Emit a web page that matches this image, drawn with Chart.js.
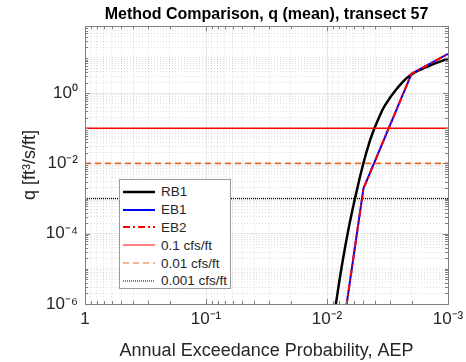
<!DOCTYPE html>
<html><head><meta charset="utf-8">
<script src="https://cdn.jsdelivr.net/npm/chart.js@4/dist/chart.umd.min.js"></script>
<style>
html,body{margin:0;padding:0;background:#fff;}
#wrap{position:relative;width:466px;height:362px;}
#legend{position:absolute;left:119px;top:179px;width:112px;height:110px;border:1px solid #9a9a9a;background:#fff;
  font:13.5px "Liberation Sans",Arial,sans-serif;color:#262626;box-sizing:border-box;padding-top:3px;}
.row{display:flex;align-items:center;height:17.8px;white-space:nowrap;}
.row svg{margin-left:3px;margin-right:6px;flex:none;}
</style></head><body>
<div id="wrap"><canvas id="c" width="466" height="362"></canvas><div id="legend"></div></div>
<script>
// ---- data ----
const rb1AEP = [0.00933, 0.00843, 0.00756, 0.00667, 0.00587, 0.00501, 0.00441, 0.00406, 0.0037, 0.00332, 0.00265, 0.00206, 0.00141, 0.001];
const rb1Q   = [1.1e-7, 1.05e-6, 1.15e-5, 1.26e-4, 1.0e-3, 9.9e-3, 0.045, 0.098, 0.209, 0.447, 1.33, 3.18, 6.1, 9.5];
const ebAEP  = [0.01, 0.005, 0.002, 0.001];
const eb1Q   = [1.4e-10, 0.00192, 3.56, 13.0];
const eb2Q   = [1.4e-10, 0.00192, 3.56, 13.0];
const thresholdNames  = ['0.1 cfs/ft', '0.01 cfs/ft', '0.001 cfs/ft'];
const thresholdValues = [0.1, 0.01, 0.001];
const thresholdAEP    = [1, 0.001];
const xTickValues = [1, 0.1, 0.01, 0.001];
const xTickLabels = ['1', '10\u207B\u00B9', '10\u207B\u00B2', '10\u207B\u00B3'];
const yTickValues = [1, 1e-2, 1e-4, 1e-6];
const yTickLabels = ['10\u2070', '10\u207B\u00B2', '10\u207B\u2074', '10\u207B\u2076'];

const FONT = '"Liberation Sans", Arial, Helvetica, sans-serif';
const TXT = '#262626';

function pts(xs, ys){ return xs.map((x,i)=>({x:x, y:ys[i]})); }
function minorTicks(e0, e1, lo, hi){
  const t=[];
  for(let e=e0;e<=e1;e++){ for(let s=1;s<=9;s++){ const v=+(s*Math.pow(10,e)).toPrecision(6); if(v>=lo*0.999999 && v<=hi*1.000001) t.push({value:v}); } }
  return t;
}
function near(a,b){ return Math.abs(Math.log10(a)-Math.log10(b))<1e-6; }
function labelOf(v, vals, labs){ for(let i=0;i<vals.length;i++){ if(near(v,vals[i])) return labs[i]; } return ''; }
function isMajor(v, vals){ return vals.some(m=>near(v,m)); }

const thrStyles = [
  {color:'#ff0000', dash:[], width:1.4},
  {color:'rgb(235,105,45)', dash:[6,4], width:1.7},
  {color:'#000000', dash:[1,1], width:1.4}
];

const datasets = [
  {label:'RB1', data:pts(rb1AEP, rb1Q), borderColor:'#000000', borderWidth:2.5, pointRadius:0, tension:0.4, order:6},
  {label:'EB1', data:pts(ebAEP, eb1Q), borderColor:'#0000ff', borderWidth:2, pointRadius:0, order:5},
  {label:'EB2', data:pts(ebAEP, eb2Q), borderColor:'#ff0000', borderWidth:2, borderDash:[7,3,2,3], pointRadius:0, order:4}
];
thresholdValues.forEach((v,i)=>{
  datasets.push({label:thresholdNames[i], data:thresholdAEP.map(x=>({x:x,y:v})), borderColor:thrStyles[i].color,
    borderWidth:thrStyles[i].width, borderDash:thrStyles[i].dash, pointRadius:0, order:3-i});
});

const framePlugin = {
  id:'frame',
  afterDraw(chart){
    const {ctx, chartArea:a, scales} = chart;
    ctx.save();
    ctx.strokeStyle = '#7f7f7f'; ctx.lineWidth = 1;
    ctx.strokeRect(Math.round(a.left)+0.5, Math.round(a.top)+0.5, Math.round(a.right-a.left), Math.round(a.bottom-a.top));
    scales.x.ticks.forEach(t=>{
      const px = Math.round(scales.x.getPixelForValue(t.value))+0.5;
      const L = isMajor(t.value, xTickValues) ? 5 : 3;
      ctx.beginPath(); ctx.moveTo(px, a.bottom); ctx.lineTo(px, a.bottom-L);
      ctx.moveTo(px, a.top); ctx.lineTo(px, a.top+L); ctx.stroke();
    });
    scales.y.ticks.forEach(t=>{
      const py = Math.round(scales.y.getPixelForValue(t.value))+0.5;
      const L = isMajor(t.value, yTickValues) ? 5 : 3;
      ctx.beginPath(); ctx.moveTo(a.left, py); ctx.lineTo(a.left+L, py);
      ctx.moveTo(a.right, py); ctx.lineTo(a.right-L, py); ctx.stroke();
    });
    ctx.restore();
  }
};

const chart = new Chart(document.getElementById('c'), {
  type:'line',
  data:{datasets:datasets},
  plugins:[framePlugin],
  options:{
    responsive:false, animation:false, devicePixelRatio:1,
    layout:{padding:{top:0,right:18,bottom:0,left:0}},
    plugins:{
      legend:{display:false}, tooltip:{enabled:false},
      title:{display:true, fullSize:false, text:'Method Comparison, q (mean), transect 57', color:'#000',
        font:{family:FONT, size:16, weight:'bold'}, padding:{top:5,bottom:2}}
    },
    scales:{
      x:{type:'logarithmic', reverse:true, min:0.001, max:1, position:'bottom',
        afterBuildTicks:s=>{ s.ticks = minorTicks(-3,0,0.001,1); },
        afterFit:s=>{ s.height = 58; },
        ticks:{autoSkip:false, maxRotation:0, padding:5, color:TXT, font:{family:FONT,size:17},
          callback:v=>labelOf(v, xTickValues, xTickLabels)},
        grid:{drawTicks:false, lineWidth:1,
          color:c=> (c.tick && isMajor(c.tick.value, xTickValues)) ? 'rgba(0,0,0,0.09)' : 'rgba(0,0,0,0.13)'},
        border:{display:false, dash:c=> (c.tick && !isMajor(c.tick.value, xTickValues)) ? [1,2] : []},
        title:{display:true, text:'Annual Exceedance Probability, AEP', color:TXT, font:{family:FONT,size:18}, padding:{top:0,bottom:0}}
      },
      y:{type:'logarithmic', min:1e-6, max:80, position:'left',
        afterBuildTicks:s=>{ s.ticks = minorTicks(-6,1,1e-6,80); },
        afterFit:s=>{ s.width = 85; },
        ticks:{autoSkip:false, padding:7, color:TXT, font:{family:FONT,size:17},
          callback:v=>labelOf(v, yTickValues, yTickLabels)},
        grid:{drawTicks:false, lineWidth:1,
          color:c=> (c.tick && isMajor(c.tick.value, yTickValues)) ? 'rgba(0,0,0,0.09)' : 'rgba(0,0,0,0.13)'},
        border:{display:false, dash:c=> (c.tick && !isMajor(c.tick.value, yTickValues)) ? [1,2] : []},
        title:{display:true, text:'q [ft\u00B3/s/ft]', color:TXT, font:{family:FONT,size:18}, padding:{top:19,bottom:0}}
      }
    }
  }
});

const leg = document.getElementById('legend');
chart.data.datasets.forEach(ds=>{
  const row = document.createElement('div'); row.className='row';
  const dash = (ds.borderDash && ds.borderDash.length) ? ds.borderDash.join(',') : 'none';
  const w = ds.borderWidth < 2 ? 1 : ds.borderWidth;
  row.innerHTML = '<svg width="32" height="8"><line x1="0" y1="4" x2="32" y2="4" stroke="'+ds.borderColor+
    '" stroke-width="'+w+'" stroke-dasharray="'+dash+'"/></svg><span></span>';
  row.querySelector('span').textContent = ds.label;
  leg.appendChild(row);
});
</script>
</body></html>
